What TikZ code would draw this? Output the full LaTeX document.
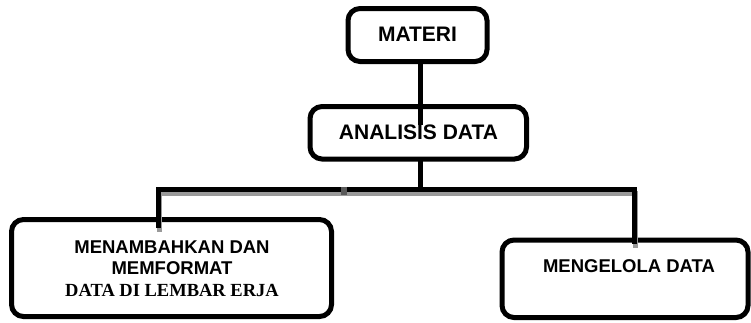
\documentclass[tikz,border=0pt]{standalone}
\usepackage{fontspec}
\setmainfont{Liberation Sans}
\newfontfamily\serifb{Liberation Serif}
\begin{document}
\begin{tikzpicture}[x=1pt,y=-1pt,
  box/.style={draw=black,line width=5pt,rounded corners=12pt,inner sep=0pt,fill=none},
  conn/.style={draw=black,line width=5pt,line join=miter},
  shade/.style={draw=black!40,line width=5pt,line join=miter},
  bigtxt/.style={font=\fontsize{21}{25}\selectfont\bfseries,inner sep=0pt},
  smalltxt/.style={font=\fontsize{18.5}{21.7}\selectfont\bfseries,inner sep=0pt,align=center}]
\useasboundingbox (0,0) rectangle (751,322);
% boxes
\node[box,minimum width=139pt,minimum height=53pt] (m) at (417.5,35) {};
\node[box,minimum width=216.5pt,minimum height=52.5pt] (a) at (418.25,132.75) {};
\node[box,minimum width=320pt,minimum height=97pt] (l) at (171.5,268) {};
\node[box,minimum width=246pt,minimum height=77.5pt] (r) at (625,278.75) {};
% texts
\node[bigtxt] (mt) at (417.5,34) {MATERI};
\node[bigtxt] (at) at (418.5,132.5) {ANALISIS DATA};
\node[smalltxt] (lt) at (172,268.5) {MENAMBAHKAN DAN\\MEMFORMAT\\{\serifb DATA DI LEMBAR ERJA}};
\node[bigtxt,font=\fontsize{18.5}{21.7}\selectfont\bfseries] (rtx) at (629,266.5) {MENGELOLA DATA};
% connector coordinates
\coordinate (mx) at (420,125);
\coordinate (j1) at (420.5,189.5);
\coordinate (bl) at (158.5,189.5);
\coordinate (br) at (634.5,189.5);
\coordinate (lb) at (158.5,228);
\coordinate (rb) at (634.5,244);
% shadow of the branch
\draw[shade] ([xshift=1pt,yshift=-3.5pt]lb) -- ([xshift=1pt,yshift=-3.5pt]bl) -- ([xshift=1pt,yshift=-3.5pt]br) -- ([xshift=1pt,yshift=-3.5pt]rb);
% connectors
\draw[conn] (m.south -| mx) -- (mx);
\draw[conn] ([yshift=3pt]a.south -| j1) -- (j1);
\draw[conn] (lb) -- (bl) -- (br) -- (rb);
\fill[black!65] (341,187) rectangle (347,195);
\end{tikzpicture}
\end{document}
